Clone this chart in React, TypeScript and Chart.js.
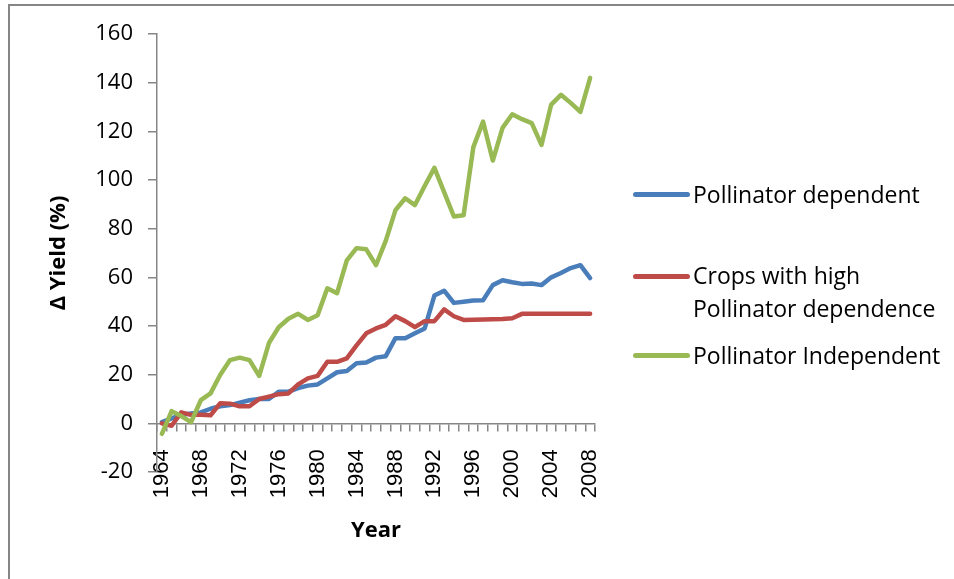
import React, { useEffect, useRef } from 'react';
import { Chart, registerables } from 'chart.js';

Chart.register(...registerables);

const years = [
  '1964', '1965', '1966', '1967', '1968', '1969', '1970', '1971', '1972', '1973',
  '1974', '1975', '1976', '1977', '1978', '1979', '1980', '1981', '1982', '1983',
  '1984', '1985', '1986', '1987', '1988', '1989', '1990', '1991', '1992', '1993',
  '1994', '1995', '1996', '1997', '1998', '1999', '2000', '2001', '2002', '2003',
  '2004', '2005', '2006', '2007', '2008',
];

const shownYearLabels = [
  '1964', '1968', '1972', '1976', '1980', '1984', '1988', '1992', '1996', '2000', '2004', '2008',
];

const pollinatorDependent = [
  0.5, 2, 3.5, 4, 4.5, 6, 7, 7.5, 8.5, 9.5,
  10, 10, 13, 13, 14.5, 15.5, 16, 18.5, 21, 21.5,
  24.7, 25, 27, 27.6, 35, 35, 37, 39, 52.5, 54.5,
  49.5, 50, 50.5, 50.6, 56.8, 58.8, 58, 57.3, 57.5, 56.8,
  60, 61.8, 63.8, 65, 59.7,
];

const highDependence = [
  0, -1, 4.5, 3.5, 3.5, 3.3, 8.3, 8.1, 7, 7,
  10, 11, 12, 12.3, 16, 18.5, 19.5, 25.3, 25.3, 26.7,
  32, 37, 39, 40.5, 44, 42, 39.5, 42, 42, 46.8,
  44, 42.5, 42.6, 42.7, 42.8, 42.9, 43.2, 45, 45, 45,
  45, 45, 45, 45, 45,
];

const pollinatorIndependent = [
  -4.3, 5, 3, 0.5, 9.5, 12.3, 20, 26, 27, 26,
  19.5, 33, 39.5, 43, 45, 42.5, 44.4, 55.5, 53.5, 67,
  72, 71.5, 65, 75, 87.6, 92.5, 89.7, 97.5, 105, 95,
  85, 85.5, 113.5, 124, 108, 121.4, 127, 125, 123.4, 114.4,
  131, 135, 131.7, 128, 142,
];

const seriesNames = ['Pollinator dependent', 'Crops with high Pollinator dependence', 'Pollinator Independent'];
const legendLines = [['Pollinator dependent'], ['Crops with high', 'Pollinator dependence'], ['Pollinator Independent']];
const seriesColors = ['#4A7EBB', '#BE4B48', '#98B954'];

const yMin = -20;
const yMax = 160;
const yStep = 20;

const axisColor = '#868686';
const sansFont = '"Open Sans", "Noto Sans", sans-serif';

export default function App() {
  const canvasRef = useRef<HTMLCanvasElement | null>(null);

  useEffect(() => {
    const canvas = canvasRef.current;
    if (!canvas) return;
    const seriesData = [pollinatorDependent, highDependence, pollinatorIndependent];
    const chart = new Chart(canvas, {
      type: 'line',
      data: {
        labels: years,
        datasets: seriesData.map((d, i) => ({
          label: seriesNames[i],
          data: d,
          borderColor: seriesColors[i],
          backgroundColor: seriesColors[i],
          borderWidth: 4.5,
          pointRadius: 0,
          pointHoverRadius: 0,
          tension: 0,
          borderJoinStyle: 'round' as const,
          borderCapStyle: 'round' as const,
          fill: false,
          order: 3 - i,
        })),
      },
      options: {
        responsive: false,
        animation: false,
        devicePixelRatio: 1,
        layout: {
          padding: { left: 0, top: 34, right: 359, bottom: 107 },
        },
        plugins: {
          legend: { display: false },
          tooltip: { enabled: false },
        },
        scales: {
          x: {
            type: 'category',
            position: { y: 0 } as any,
            offset: true,
            grid: {
              offset: true,
              drawOnChartArea: false,
              drawTicks: true,
              tickLength: 7,
              color: axisColor,
              lineWidth: 1.5,
            },
            border: { color: axisColor, width: 1.5 },
            ticks: {
              autoSkip: false,
              minRotation: 90,
              maxRotation: 90,
              padding: 19,
              color: '#000',
              font: { family: '"Liberation Sans", Arial, sans-serif', size: 22 },
              callback: function (this: any, _v: any, index: number) {
                const lab = years[index];
                return shownYearLabels.includes(lab) ? lab : '';
              },
            },
            title: {
              display: true,
              text: 'Year',
              color: '#000',
              font: { family: sansFont, size: 22, weight: 'bold' },
              padding: { top: 0, bottom: 0 },
            },
          },
          y: {
            min: yMin,
            max: yMax,
            grid: {
              drawOnChartArea: false,
              drawTicks: true,
              tickLength: 9,
              color: axisColor,
              lineWidth: 1.5,
            },
            border: { color: axisColor, width: 1.5 },
            ticks: {
              stepSize: yStep,
              padding: 15,
              color: '#000',
              font: { family: sansFont, size: 22 },
            },
            title: {
              display: true,
              text: 'Δ Yield (%)',
              color: '#000',
              font: { family: sansFont, size: 22, weight: 'bold' },
              padding: { top: 46, bottom: 0 },
            },
            afterFit: (scale: any) => {
              scale.width = 157;
            },
          },
        },
      },
    });
    return () => chart.destroy();
  }, []);

  const legendTops = [178, 259, 339];
  const legendLineY = [194, 276, 355];

  return (
    <div>
      <div
        style={{
          position: 'absolute',
          left: 8,
          top: 4,
          width: 944,
          height: 573,
          borderLeft: `2px solid ${axisColor}`,
          borderTop: `2px solid ${axisColor}`,
        }}
      />
      <canvas
        ref={canvasRef}
        width={954}
        height={579}
        style={{ position: 'absolute', left: 0, top: 0, width: 954, height: 579, display: 'block' }}
      />
      {legendLines.map((lines, i) => (
        <React.Fragment key={i}>
          <div
            style={{
              position: 'absolute',
              left: 633,
              top: legendLineY[i] - 2.5,
              width: 57,
              height: 5,
              borderRadius: 3,
              background: seriesColors[i],
            }}
          />
          <div
            style={{
              position: 'absolute',
              left: 693,
              top: legendTops[i],
              fontFamily: sansFont,
              fontSize: 23,
              lineHeight: '33px',
              color: '#000',
              whiteSpace: 'nowrap',
            }}
          >
            {lines.map((t, j) => (
              <div key={j}>{t}</div>
            ))}
          </div>
        </React.Fragment>
      ))}
    </div>
  );
}
